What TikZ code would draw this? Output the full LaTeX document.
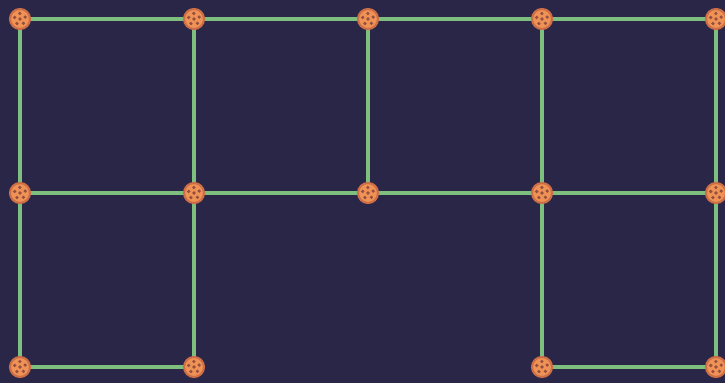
\documentclass[tikz,border=0pt]{standalone}
\usepackage{tikz}
\usetikzlibrary{positioning,calc}
\definecolor{courtbg}{RGB}{41,38,72}
\definecolor{courtline}{RGB}{126,190,126}
\definecolor{ballfill}{RGB}{238,146,86}
\definecolor{balledge}{RGB}{205,110,70}
\definecolor{ballhole}{RGB}{150,78,62}
\tikzset{
  ball/.style={circle, draw=balledge, line width=0.6pt, fill=ballfill,
    minimum size=0.2cm, inner sep=0pt,
    path picture={
      \fill[ballhole] (path picture bounding box.center) circle (0.018cm);
      \foreach \a in {20,92,...,308}
        \fill[ballhole] ($(path picture bounding box.center)+(\a:0.055cm)$) circle (0.018cm);
    }},
  courtedge/.style={draw=courtline, line width=0.9pt}
}
\begin{document}
\begin{tikzpicture}[x=0.01cm, y=-0.01cm]
  \fill[courtbg] (0,0) rectangle (725,383);
  \useasboundingbox (0,0) rectangle (725,383);
  % ball positions
  \foreach \col/\x in {1/20,2/194,3/368,4/542,5/716}
    \foreach \row/\y in {1/19,2/193,3/367}
      \coordinate (p\col\row) at (\x,\y);
  % court lines
  \draw[courtedge] (p11) -- (p21) -- (p31) -- (p41) -- (p51);
  \draw[courtedge] (p12) -- (p22) -- (p32) -- (p42) -- (p52);
  \draw[courtedge] (p13) -- (p23);
  \draw[courtedge] (p43) -- (p53);
  \foreach \c in {1,2,3,4,5}
    \draw[courtedge] (p\c1) -- (p\c2);
  \foreach \c in {1,2,4,5}
    \draw[courtedge] (p\c2) -- (p\c3);
  % balls
  \foreach \n in {11,21,31,41,51,12,22,32,42,52,13,23,43,53}
    \node[ball] (b\n) at (p\n) {};
\end{tikzpicture}
\end{document}
